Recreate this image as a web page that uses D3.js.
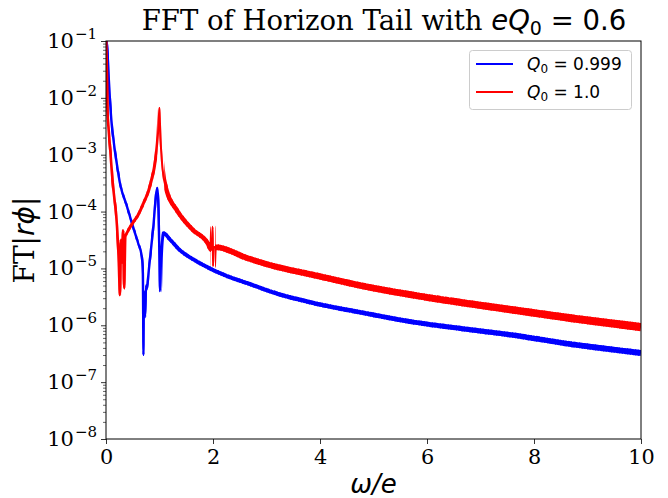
<!DOCTYPE html>
<html>
<head>
<script src="https://cdn.jsdelivr.net/npm/d3@7"></script>
<style>
  body { margin: 0; background: #fff; }
</style>
</head>
<body>
<script>
var svgwidth = 668, svgheight = 498;
var left = 106, right = 641, top_ = 41, bottom = 439;

// Q0 = 0.999
var blueOmega = [0.003, 0.025, 0.06, 0.10, 0.14, 0.20, 0.26, 0.39, 0.50, 0.60, 0.67, 0.69, 0.70, 0.71, 0.73, 0.75, 0.76, 0.80, 0.88, 0.96, 0.99, 1.01, 1.03, 1.07, 1.20, 1.38, 1.65, 2.00, 2.30, 2.63, 3.20, 3.87, 4.80, 5.74, 6.70, 7.61, 8.80, 10.0];
var blueAmp = [0.12, 0.0695, 0.0155, 0.0041, 0.00182, 7.1e-4, 3.2e-4, 1.25e-4, 5.6e-5, 2.8e-5, 1.6e-5, 8e-6, 3e-7, 4e-6, 1.4e-6, 5e-6, 4.2e-6, 9.3e-6, 4.9e-5, 2.6e-4, 4.7e-5, 4.0e-6, 1.7e-5, 4.2e-5, 3.2e-5, 2.1e-5, 1.41e-5, 9.4e-6, 7.1e-6, 5.55e-6, 3.6e-6, 2.47e-6, 1.66e-6, 1.14e-6, 8.6e-7, 6.7e-7, 4.5e-7, 3.26e-7];

// Q0 = 1.0
var redOmega = [0.003, 0.012, 0.025, 0.05, 0.08, 0.10, 0.13, 0.16, 0.19, 0.22, 0.24, 0.26, 0.28, 0.30, 0.32, 0.34, 0.36, 0.40, 0.50, 0.60, 0.70, 0.80, 0.85, 0.90, 0.94, 0.97, 0.99, 1.00, 1.01, 1.03, 1.06, 1.13, 1.32, 1.63, 1.90, 1.97, 1.993, 2.0, 2.02, 2.10, 2.63, 3.20, 3.87, 4.80, 5.74, 6.70, 7.61, 8.80, 10.0];
var redAmp = [0.12, 0.05, 6.9e-3, 2.7e-3, 1.2e-3, 6.6e-4, 2.9e-4, 1.6e-4, 8.7e-5, 3.2e-5, 1.27e-5, 3.4e-6, 3.2e-5, 1.27e-5, 4.7e-5, 4.5e-6, 3.6e-5, 4.4e-5, 6.3e-5, 8.7e-5, 1.4e-4, 2.4e-4, 3.6e-4, 5.8e-4, 1.07e-3, 2.2e-3, 5e-3, 6.6e-3, 3.3e-3, 1.2e-3, 5.4e-4, 2.4e-4, 1.07e-4, 4.7e-5, 2.8e-5, 2.1e-5, 5.4e-5, 1.1e-5, 2.38e-5, 2.35e-5, 1.53e-5, 1.06e-5, 7.7e-6, 4.9e-6, 3.4e-6, 2.46e-6, 1.86e-6, 1.29e-6, 9.3e-7];

var xTicks = [0, 2, 4, 6, 8, 10];
var yExponents = [-1, -2, -3, -4, -5, -6, -7, -8];
var legendValues = ["0.999", "1.0"];

var serif = "'DejaVu Serif', serif";
var sans = "'DejaVu Sans', sans-serif";

var x = d3.scaleLinear().domain([0, 10]).range([left, right]);
var y = d3.scaleLog().domain([1e-8, 1e-1]).range([bottom, top_]);

var svg = d3.select("body").append("svg")
  .attr("width", svgwidth)
  .attr("height", svgheight)
  .style("background-color", "#fff");

var defs = svg.append("defs");

// line thickness follows the oscillation band seen in the picture
function blueWidth(w) {
  if (w < 1.05) return 2.4;
  return 3.6 + 2.4 * (w - 1) / 9;
}
function redWidth(w) {
  if (w < 0.4) return 2.6;
  if (w < 0.93) return 3;
  if (w < 1.08) return 2;
  if (w < 1.95) return 4.4;
  if (w < 2.05) return 2;
  return 5.6 + 2.6 * (w - 2) / 8;
}

var step = 0.05;
function drawSeries(name, om, amp, color, wfn) {
  var pts = om.map(function (d, i) { return [d, amp[i]]; });
  var line = d3.line()
    .x(function (d) { return x(d[0]); })
    .y(function (d) { return y(d[1]); })
    .curve(d3.curveMonotoneX);
  var dstr = line(pts);
  var g = svg.append("g");
  for (var k = 0; k * step < 10; k++) {
    var w0 = k * step, w1 = (k + 1) * step;
    var id = name + "clip" + k;
    // neighbouring bands overlap a little so no seams show
    var xa = k === 0 ? left : x(w0) - 0.6;
    var xb = Math.min(x(w1) + 0.6, right);
    defs.append("clipPath").attr("id", id)
      .append("rect").attr("x", xa).attr("y", top_)
      .attr("width", xb - xa).attr("height", bottom - top_);
    g.append("path")
      .attr("d", dstr)
      .attr("clip-path", "url(#" + id + ")")
      .attr("fill", "none")
      .attr("stroke", color)
      .attr("stroke-width", wfn((w0 + w1) / 2))
      .attr("stroke-linejoin", "round");
  }
}

drawSeries("b", blueOmega, blueAmp, "#0000ff", blueWidth);
drawSeries("r", redOmega, redAmp, "#ff0000", redWidth);

// axes
var xAxis = svg.append("g")
  .attr("transform", "translate(0," + bottom + ")")
  .call(d3.axisBottom(x).tickValues(xTicks).tickSize(5).tickPadding(5).tickFormat(d3.format("d")));
xAxis.select(".domain").remove();
xAxis.selectAll("text").style("font-family", serif).style("font-size", "20.8px").attr("fill", "#000");
xAxis.selectAll("line").attr("stroke", "#000").attr("stroke-width", 0.8);

var minor = [];
for (var e = -8; e < -1; e++) for (var m = 2; m <= 9; m++) minor.push(m * Math.pow(10, e));

var yMinor = svg.append("g")
  .attr("transform", "translate(" + left + ",0)")
  .call(d3.axisLeft(y).tickValues(minor).tickSize(3).tickFormat(""));
yMinor.select(".domain").remove();
yMinor.selectAll("line").attr("stroke", "#000").attr("stroke-width", 0.6);

var yAxis = svg.append("g")
  .attr("transform", "translate(" + left + ",0)")
  .call(d3.axisLeft(y).tickValues(yExponents.map(function (p) { return Math.pow(10, p); }))
    .tickSize(5).tickFormat(""));
yAxis.select(".domain").remove();
yAxis.selectAll("line").attr("stroke", "#000").attr("stroke-width", 0.8);

yExponents.forEach(function (p) {
  var t = svg.append("text")
    .attr("x", left - 9)
    .attr("y", y(Math.pow(10, p)) + 7)
    .attr("text-anchor", "end")
    .style("font-family", serif)
    .style("font-size", "21px");
  t.append("tspan").text("10");
  t.append("tspan").attr("dy", -9).attr("dx", 1).style("font-size", "15px").text("\u2212" + (-p));
});

// frame
svg.append("rect")
  .attr("x", left).attr("y", top_)
  .attr("width", right - left).attr("height", bottom - top_)
  .attr("fill", "none").attr("stroke", "#000").attr("stroke-width", 1);

// title
var title = svg.append("text")
  .attr("x", 384).attr("y", 30)
  .attr("text-anchor", "middle")
  .style("font-size", "27.5px");
title.append("tspan").style("font-family", serif).text("FFT of Horizon Tail with ");
title.append("tspan").style("font-family", sans).style("font-style", "italic").text("eQ");
title.append("tspan").style("font-family", sans).style("font-size", "19px").attr("dy", 5).text("0");
title.append("tspan").style("font-family", sans).attr("dy", -5).text(" = 0.6");

// x label
svg.append("text")
  .attr("x", (left + right) / 2).attr("y", 493)
  .attr("text-anchor", "middle")
  .style("font-family", sans).style("font-size", "26px").style("font-style", "italic")
  .text("\u03c9/e");

// y label
var yl = svg.append("text")
  .attr("transform", "translate(34," + ((top_ + bottom) / 2) + ") rotate(-90)")
  .attr("text-anchor", "middle")
  .style("font-size", "28px");
yl.append("tspan").style("font-family", serif).text("FT");
yl.append("tspan").style("font-family", sans).style("font-style", "italic").text("|r\u03d5|");

// legend
var lg = svg.append("g");
lg.append("rect")
  .attr("x", 469.5).attr("y", 50.5).attr("width", 162).attr("height", 59)
  .attr("rx", 3).attr("fill", "#fff").attr("fill-opacity", 0.8)
  .attr("stroke", "#cccccc").attr("stroke-width", 1);
var legendColors = ["#0000ff", "#ff0000"];
legendValues.forEach(function (v, i) {
  var ly = 64 + i * 28;
  lg.append("line").attr("x1", 476).attr("x2", 513).attr("y1", ly).attr("y2", ly)
    .attr("stroke", legendColors[i]).attr("stroke-width", 2);
  var t = lg.append("text").attr("x", 527).attr("y", ly + 6)
    .style("font-family", sans).style("font-size", "17px");
  t.append("tspan").style("font-style", "italic").text("Q");
  t.append("tspan").attr("dy", 3).style("font-size", "12px").text("0");
  t.append("tspan").attr("dy", -3).text(" = " + v);
});
</script>
</body>
</html>
